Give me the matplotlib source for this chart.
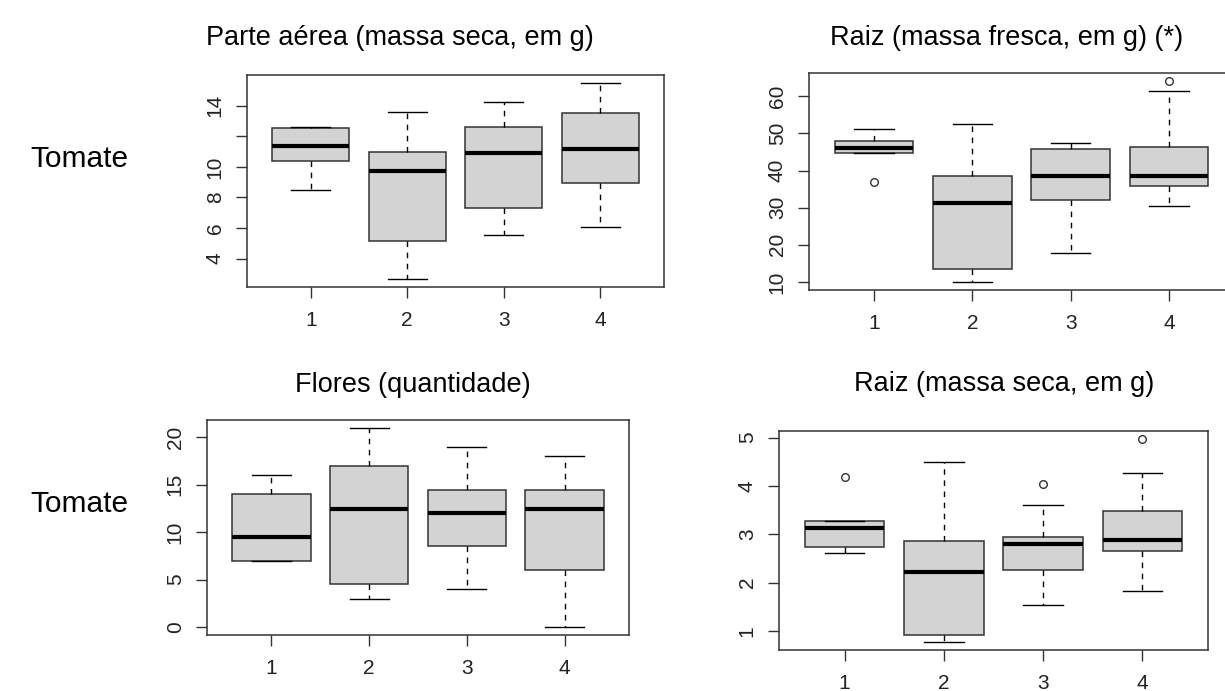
import matplotlib
matplotlib.use("Agg")
import matplotlib.pyplot as plt

plt.rcParams["font.family"] = ["Liberation Sans", "DejaVu Sans"]

W, H = 1225, 691
groups = [1, 2, 3, 4]

# Parte aérea (massa seca, em g)
pa_whislo = [8.48, 2.65, 5.53, 6.07]
pa_q1 = [10.38, 5.14, 7.34, 8.93]
pa_med = [11.36, 9.76, 10.90, 11.20]
pa_q3 = [12.56, 10.99, 12.62, 13.54]
pa_whishi = [12.62, 13.61, 14.22, 15.50]
pa_fliers = [[], [], [], []]
pa_ticks = [4, 6, 8, 10, 12, 14]
pa_ticklabels = ["4", "6", "8", "10", "", "14"]

# Raiz (massa fresca, em g) (*)
rf_whislo = [44.7, 10.0, 17.7, 30.5]
rf_q1 = [44.7, 13.5, 32.0, 35.9]
rf_med = [46.0, 31.35, 38.4, 38.4]
rf_q3 = [48.0, 38.4, 45.9, 46.3]
rf_whishi = [51.2, 52.4, 47.3, 61.3]
rf_fliers = [[36.8], [], [], [64.1]]
rf_ticks = [10, 20, 30, 40, 50, 60]
rf_ticklabels = ["10", "20", "30", "40", "50", "60"]

# Flores (quantidade)
fl_whislo = [7.0, 3.0, 4.0, 0.0]
fl_q1 = [7.0, 4.5, 8.5, 6.0]
fl_med = [9.5, 12.5, 12.0, 12.5]
fl_q3 = [14.0, 17.0, 14.5, 14.5]
fl_whishi = [16.0, 21.0, 19.0, 18.0]
fl_fliers = [[], [], [], []]
fl_ticks = [0, 5, 10, 15, 20]
fl_ticklabels = ["0", "5", "10", "15", "20"]

# Raiz (massa seca, em g)
rs_whislo = [2.62, 0.77, 1.54, 1.83]
rs_q1 = [2.73, 0.92, 2.26, 2.65]
rs_med = [3.12, 2.21, 2.80, 2.88]
rs_q3 = [3.27, 2.85, 2.95, 3.49]
rs_whishi = [3.27, 4.50, 3.61, 4.26]
rs_fliers = [[4.18], [], [4.03], [4.97]]
rs_ticks = [1, 2, 3, 4, 5]
rs_ticklabels = ["1", "2", "3", "4", "5"]

EDGE = "#333333"


def px_axes(fig, x0, y0, x1, y1):
    return fig.add_axes([x0 / W, 1 - y1 / H, (x1 - x0) / W, (y1 - y0) / H])


def draw_panel(ax, whislo, q1, med, q3, whishi, fliers, ticks, ticklabels):
    stats = []
    for i in range(len(groups)):
        stats.append({"whislo": whislo[i], "q1": q1[i], "med": med[i],
                      "q3": q3[i], "whishi": whishi[i], "fliers": fliers[i]})
    ax.bxp(stats, positions=groups, widths=0.8, patch_artist=True,
           boxprops=dict(facecolor="#d3d3d3", edgecolor=EDGE, linewidth=1.1),
           medianprops=dict(color="black", linewidth=3.0, solid_capstyle="butt"),
           whiskerprops=dict(color="black", linewidth=1.0, linestyle=(0, (4, 4))),
           capprops=dict(color="black", linewidth=1.0),
           capwidths=0.4,
           flierprops=dict(marker="o", markersize=5.5, markerfacecolor="none",
                           markeredgecolor=EDGE, markeredgewidth=1.0))
    allv = whislo + whishi + [v for f in fliers for v in f]
    lo, hi = min(allv), max(allv)
    pad = (hi - lo) * 0.04
    ax.set_ylim(lo - pad, hi + pad)
    ax.set_xlim(0.34, 4.66)
    ax.set_xticks(groups)
    ax.set_xticklabels([str(g) for g in groups])
    ax.set_yticks(ticks)
    ax.set_yticklabels(ticklabels, rotation=90, va="center")
    ax.tick_params(axis="both", direction="out", length=8, width=1.0,
                   color=EDGE, labelsize=15, labelcolor="#222222")
    ax.tick_params(axis="x", pad=9)
    ax.tick_params(axis="y", pad=8)
    for s in ax.spines.values():
        s.set_color(EDGE)
        s.set_linewidth(1.1)


fig = plt.figure(figsize=(W / 100, H / 100), dpi=100)

ax1 = px_axes(fig, 247, 75, 664, 287)
draw_panel(ax1, pa_whislo, pa_q1, pa_med, pa_q3, pa_whishi, pa_fliers,
           pa_ticks, pa_ticklabels)
ax2 = px_axes(fig, 809, 73, 1234, 290)
draw_panel(ax2, rf_whislo, rf_q1, rf_med, rf_q3, rf_whishi, rf_fliers,
           rf_ticks, rf_ticklabels)
ax3 = px_axes(fig, 207, 420, 629, 635)
draw_panel(ax3, fl_whislo, fl_q1, fl_med, fl_q3, fl_whishi, fl_fliers,
           fl_ticks, fl_ticklabels)
ax4 = px_axes(fig, 779, 431, 1208, 650)
draw_panel(ax4, rs_whislo, rs_q1, rs_med, rs_q3, rs_whishi, rs_fliers,
           rs_ticks, rs_ticklabels)

titles = [("Parte aérea (massa seca, em g)", 400, 45),
          ("Raiz (massa fresca, em g) (*)", 1007, 45),
          ("Flores (quantidade)", 413, 392),
          ("Raiz (massa seca, em g)", 1004, 391)]
for txt, x, y in titles:
    fig.text(x / W, 1 - y / H, txt, ha="center", va="baseline", fontsize=19.5)

for y in (167, 512):
    fig.text(79 / W, 1 - y / H, "Tomate", ha="center", va="baseline", fontsize=21.5)

fig.savefig("out.png", dpi=100)
